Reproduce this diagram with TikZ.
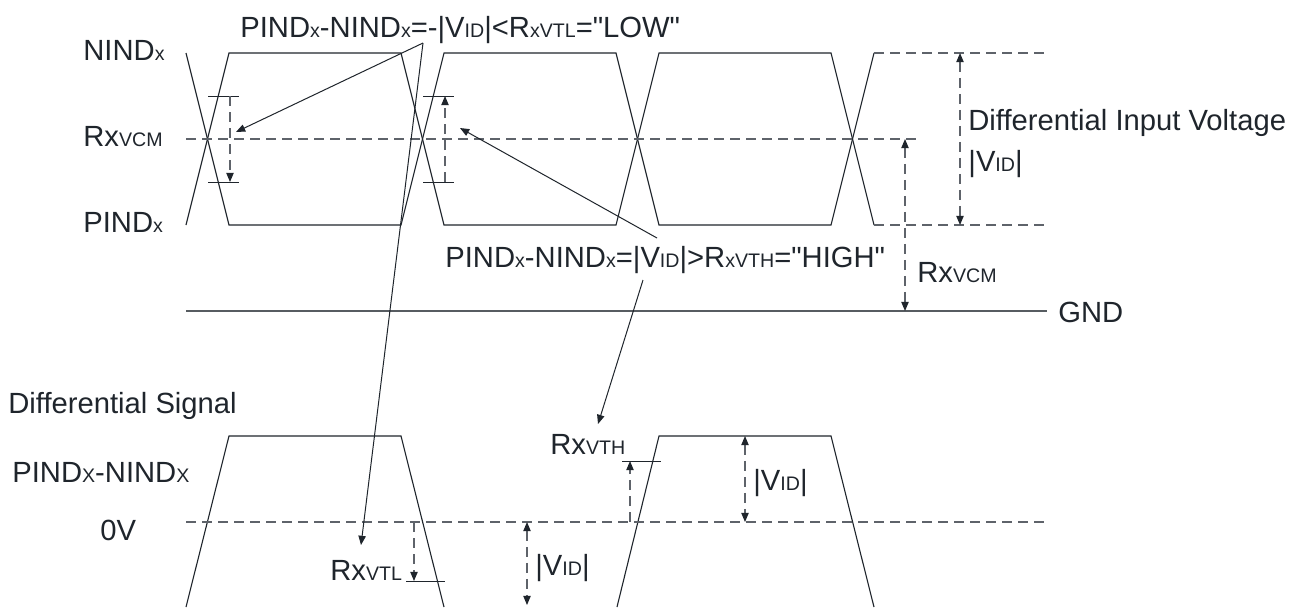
\documentclass[tikz,border=0pt]{standalone}
\usepackage{fontspec}
\setmainfont{Liberation Sans}
\usetikzlibrary{arrows.meta}
\definecolor{ink}{HTML}{1F252C}
\definecolor{dashc}{HTML}{5E636A}
\newcommand{\sbs}[1]{{\fontsize{9.8}{11}\selectfont #1}}
\newcommand{\qq}{\textquotedbl}
\begin{document}
\begin{tikzpicture}[x=0.5pt,y=-0.5pt,
  lbl/.style={inner sep=0pt, anchor=base west, text=ink, font=\fontsize{14.6}{17}\selectfont},
  wave/.style={draw=ink, line width=0.55pt, line join=miter},
  gndline/.style={draw=ink!75, line width=0.6pt},
  dsh/.style={draw=dashc, line width=0.55pt, dash pattern=on 5pt off 3pt},
  tickmark/.style={draw=ink, line width=0.5pt},
  tip/.style={-{Triangle[length=4.6pt,width=3.7pt,color=ink]}},
  tips/.style={{Triangle[length=4.6pt,width=3.7pt,color=ink]}-{Triangle[length=4.6pt,width=3.7pt,color=ink]}},
  pointer/.style={draw=ink, line width=0.5pt, -{Triangle[length=4.6pt,width=3.7pt]}},
]
\fill[white] (0,0) rectangle (1302,607);
\useasboundingbox (0,0) rectangle (1302,607);
\clip (0,0) rectangle (1302,607);

% ---------- labels ----------
\node[lbl] (ninlbl) at (83,60) {NIND\sbs{x}};
\node[lbl] (vcmlbl) at (83,146) {Rx\sbs{VCM}};
\node[lbl] (pinlbl) at (83,232) {PIND\sbs{x}};
\node[lbl] (lowlbl) at (240,37) {PIND\sbs{x}-NIND\sbs{x}=-|V\sbs{ID}|<R\sbs{xVTL}=\qq LOW\qq};
\node[lbl] (hilbl) at (445,267) {PIND\sbs{x}-NIND\sbs{x}=|V\sbs{ID}|>R\sbs{xVTH}=\qq HIGH\qq};
\node[lbl] (divlbl) at (968,130) {Differential Input Voltage};
\node[lbl] (vidr) at (968,171) {|V\sbs{ID}|};
\node[lbl] (vcmr) at (917,282) {Rx\sbs{VCM}};
\node[lbl] (gndlbl) at (1058,322) {GND};
\node[lbl] (dslbl) at (8,413) {Differential Signal};
\node[lbl] (pnlbl) at (12,482) {PIND\sbs{X}-NIND\sbs{X}};
\node[lbl] (zvlbl) at (100,540) {0V};
\node[lbl] (vtllbl) at (330,580) {Rx\sbs{VTL}};
\node[lbl] (vthlbl) at (550,454) {Rx\sbs{VTH}};
\node[lbl] (vidbl) at (535,575) {|V\sbs{ID}|};
\node[lbl] (vidbr) at (753,490) {|V\sbs{ID}|};

% ---------- top eye diagram ----------
\draw[wave] (186,53) -- (229,225) -- (401,225) -- (444,53) -- (616,53) -- (659,225) -- (831,225) -- (874,53);
\draw[wave] (186,225) -- (229,53) -- (401,53) -- (444,225) -- (616,225) -- (659,53) -- (831,53) -- (874,225);
\draw[dsh] (874,53) -- (1047,53);
\draw[dsh] (874,225) -- (1047,225);
\draw[dsh] (186,139) -- (918,139);
\draw[gndline] (186,311) -- (1047,311);

\draw[tickmark] (208,96) -- (239,96);
\draw[tickmark] (208,182) -- (239,182);
\draw[tickmark] (423,96) -- (454,96);
\draw[tickmark] (423,182) -- (454,182);
\draw[dsh,tip] (230,96) -- (230,182);
\draw[dsh,tip] (445,182) -- (445,96);
\draw[dsh,tips] (960,53) -- (960,225);
\draw[dsh,tips] (905,139) -- (905,311);

% ---------- bottom differential signal ----------
\draw[wave] (186,607) -- (229,436) -- (401,436) -- (444,607);
\draw[wave] (617,607) -- (659,436) -- (831,436) -- (874,607);
\draw[dsh] (186,522) -- (1047,522);
\draw[tickmark] (406,581) -- (445,581);
\draw[dsh,tip] (414,522) -- (414,581);
\draw[dsh,tips] (527,522) -- (527,605);
\draw[tickmark] (622,461) -- (661,461);
\draw[dsh,tip] (630,522) -- (630,461);
\draw[dsh,tips] (745,436) -- (745,522);

% ---------- pointers ----------
\coordinate (lowsrc) at (423,43);
\coordinate (lowtipA) at (236,132);
\coordinate (lowtipB) at (361,545);
\coordinate (hisrcA) at (657,238);
\coordinate (hitipA) at (460,128);
\coordinate (hisrcB) at (643,280);
\coordinate (hitipB) at (598,424);
\draw[pointer] (lowsrc) -- (lowtipA);
\draw[pointer] (lowsrc) -- (lowtipB);
\draw[pointer] (hisrcA) -- (hitipA);
\draw[pointer] (hisrcB) -- (hitipB);
\end{tikzpicture}
\end{document}
